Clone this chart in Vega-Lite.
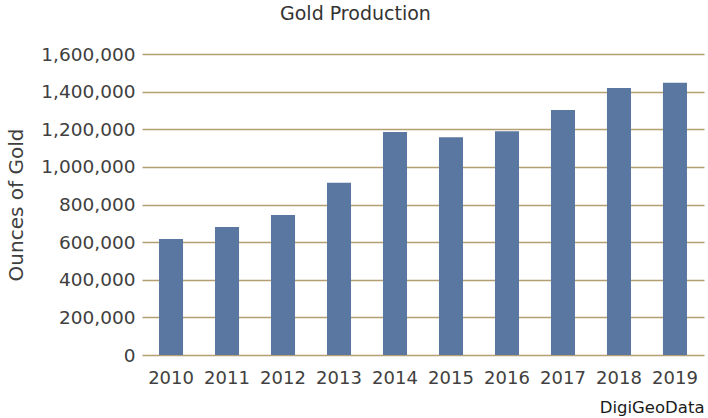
{
  "$schema": "https://vega.github.io/schema/vega-lite/v6.json",
  "autosize": {"type": "none"},
  "padding": {"left": 142, "top": 54, "right": 4, "bottom": 63},
  "width": 562,
  "height": 301,
  "background": "white",
  "title": {
    "text": "Gold Production",
    "frame": "bounds",
    "anchor": "middle",
    "font": "DejaVu Sans",
    "fontSize": 19,
    "fontWeight": "normal",
    "color": "#333333",
    "offset": 21
  },
  "data": {
    "values": [
      {"year": "2010", "ounces": 616000},
      {"year": "2011", "ounces": 680000},
      {"year": "2012", "ounces": 744000},
      {"year": "2013", "ounces": 915000},
      {"year": "2014", "ounces": 1185000},
      {"year": "2015", "ounces": 1158000},
      {"year": "2016", "ounces": 1190000},
      {"year": "2017", "ounces": 1302000},
      {"year": "2018", "ounces": 1419000},
      {"year": "2019", "ounces": 1447000}
    ]
  },
  "mark": {"type": "bar", "color": "#5a77a1"},
  "encoding": {
    "x": {
      "field": "year",
      "type": "ordinal",
      "scale": {"paddingInner": 0.571, "paddingOuter": 0.304},
      "axis": {
        "title": "DigiGeoData",
        "titleAnchor": "end",
        "titleFont": "DejaVu Sans",
        "titleFontSize": 16.5,
        "titleFontWeight": "normal",
        "titleColor": "#1a1a1a",
        "titlePadding": 12,
        "labelAngle": 0,
        "labelFont": "DejaVu Sans",
        "labelFontSize": 18,
        "labelColor": "#404040",
        "labelPadding": 14,
        "domain": false,
        "ticks": false
      }
    },
    "y": {
      "field": "ounces",
      "type": "quantitative",
      "scale": {"domain": [0, 1600000], "nice": false},
      "axis": {
        "title": "Ounces of Gold",
        "titleFont": "DejaVu Sans",
        "titleFontSize": 20,
        "titleFontWeight": "normal",
        "titleColor": "#404040",
        "titlePadding": 14,
        "values": [0, 200000, 400000, 600000, 800000, 1000000, 1200000, 1400000, 1600000],
        "format": ",d",
        "labelFont": "DejaVu Sans",
        "labelFontSize": 18.5,
        "labelColor": "#404040",
        "labelPadding": 7,
        "domain": false,
        "ticks": false,
        "grid": true,
        "gridColor": "#b39f72",
        "gridWidth": 1.5,
        "zindex": 0
      }
    }
  },
  "config": {"view": {"stroke": null}}
}
